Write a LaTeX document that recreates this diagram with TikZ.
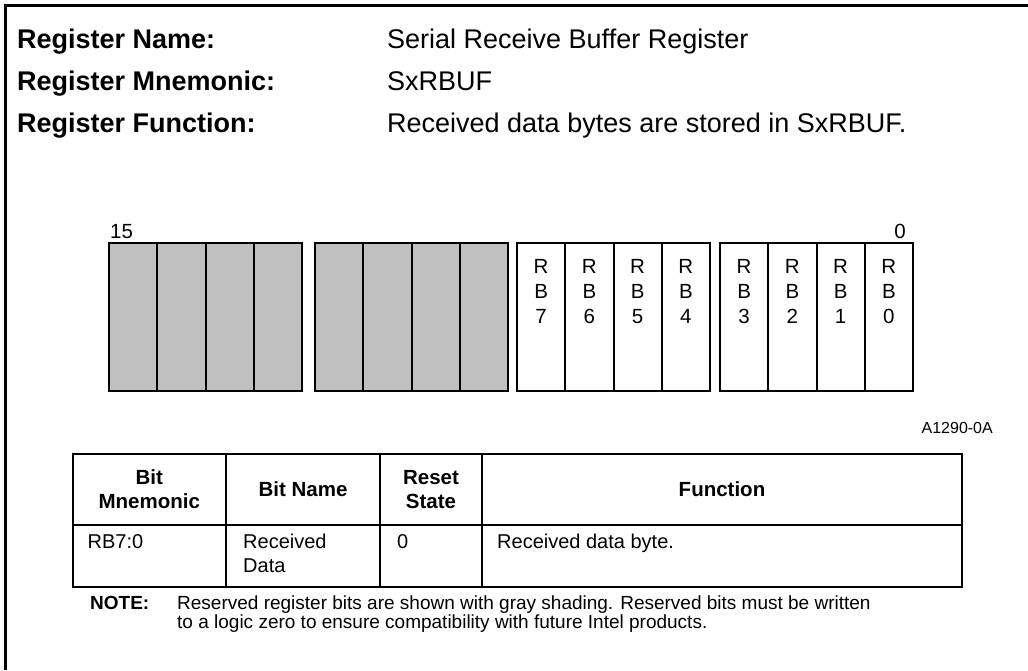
\documentclass[tikz,border=0pt]{standalone}
\usepackage{fontspec}
\setmainfont{Liberation Sans}
\usetikzlibrary{positioning}
\definecolor{rsvgray}{HTML}{C0C0C0}

\begin{document}
\begin{tikzpicture}[
    x=1pt, y=-1pt,
    txt/.style={inner sep=0pt, font=\fontsize{20.5}{25}\selectfont},
    head/.style={inner sep=0pt, anchor=base west, font=\fontsize{27}{30}\selectfont\bfseries},
    val/.style={inner sep=0pt, anchor=base west, font=\fontsize{27}{30}\selectfont},
    bitcell/.style={draw, line width=2pt, fill=white, anchor=north west, outer sep=0pt, minimum width=48.25pt, minimum height=148pt, inner sep=0pt},
    rsvcell/.style={bitcell, fill=rsvgray},
    bittxt/.style={txt, align=center, anchor=north},
    hcell/.style={draw, line width=2pt, outer sep=0pt, inner sep=0pt, minimum height=71pt, align=center, font=\fontsize{20.5}{24}\selectfont\bfseries},
    bcell/.style={draw, line width=2pt, outer sep=0pt, inner sep=0pt, minimum height=62pt},
    btxt/.style={inner sep=0pt, anchor=north west, align=left, font=\fontsize{20}{24}\selectfont},
    notetxt/.style={inner sep=0pt, anchor=base west, align=left, font=\fontsize{19}{19.5}\selectfont}
  ]
  \useasboundingbox[fill=white] (0,0) rectangle (1028,670);
  \draw[line width=3pt] (5.5,670) -- (5.5,5.5) -- (1028,5.5);

  % register header
  \node[head] (nm) at (17,48) {Register Name:};
  \node[head] (mn) at (17,90) {Register Mnemonic:};
  \node[head] (fn) at (17,132) {Register Function:};
  \node[val] (nmv) at (387,48) {Serial Receive Buffer Register};
  \node[val] (mnv) at (387,90) {SxRBUF};
  \node[val] (fnv) at (387,132) {Received data bytes are stored in SxRBUF.};

  % bit cells, 15 down to 0
  \foreach \gx [count=\g from 0] in {109,315,517,720}
    \foreach \k in {0,...,3} {
      \pgfmathtruncatemacro\bit{15-4*\g-\k}
      \ifnum\bit>7
        \node[rsvcell] (c\bit) at (\gx+\k*48.25,243) {};
      \else
        \node[bitcell] (c\bit) at (\gx+\k*48.25,243) {};
        \node[bittxt, below=16pt of c\bit.north] (t\bit) {R\\B\\\bit};
      \fi
    }
  \node[txt, anchor=south west, above right=4pt and 1pt of c15.north west] (msb) {15};
  \node[txt, anchor=south east, above left=4pt and 7pt of c0.north east] (lsb) {0};
  \node[inner sep=0pt, anchor=east, font=\fontsize{16}{18}\selectfont] (fig) at (993,428) {A1290-0A};

  % bit table
  \node[hcell, anchor=north west, minimum width=153.5pt] (h1) at (72.5,454) {Bit\\Mnemonic};
  \node[hcell, minimum width=154pt, right=0pt of h1] (h2) {Bit Name};
  \node[hcell, minimum width=102pt, right=0pt of h2] (h3) {Reset\\State};
  \node[hcell, minimum width=480pt, right=0pt of h3] (h4) {Function};
  \node[bcell, minimum width=153.5pt, below=0pt of h1] (b1) {};
  \node[bcell, minimum width=154pt, below=0pt of h2] (b2) {};
  \node[bcell, minimum width=102pt, below=0pt of h3] (b3) {};
  \node[bcell, minimum width=480pt, below=0pt of h4] (b4) {};
  \node[btxt, below right=9pt and 15pt of b1.north west] (r1) {RB7:0};
  \node[btxt, below right=9pt and 17pt of b2.north west] (r2) {Received\\Data};
  \node[btxt, below right=9pt and 17pt of b3.north west] (r3) {0};
  \node[btxt, below right=9pt and 15pt of b4.north west] (r4) {Received data byte.};

  % note
  \node[notetxt, font=\fontsize{19}{19.5}\selectfont\bfseries] (note) at (90,609) {NOTE:};
  \node[notetxt] (notex) at (177,628.5) {Reserved register bits are shown with gray shading. Reserved bits must be written\\to a logic zero to ensure compatibility with future Intel products.};
\end{tikzpicture}
\end{document}
